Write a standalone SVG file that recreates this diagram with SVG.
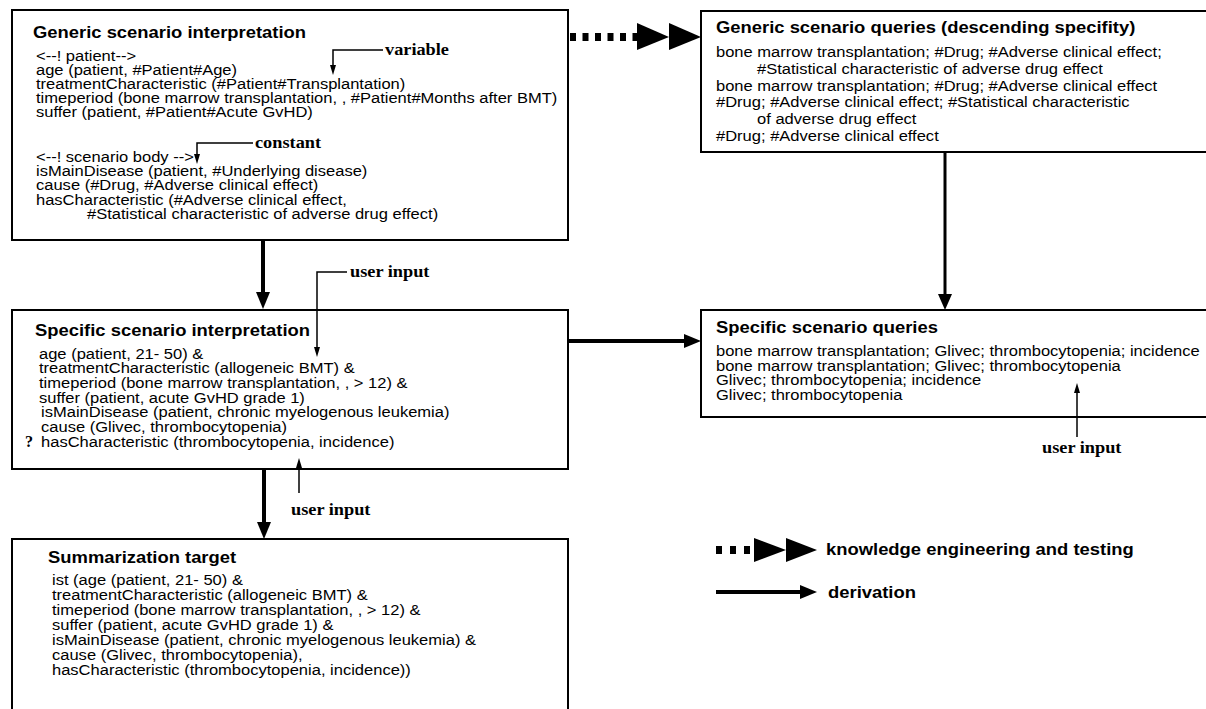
<svg xmlns="http://www.w3.org/2000/svg" width="1206" height="709" viewBox="0 0 1206 709">
<style>
.box{fill:#fff;stroke:#000;stroke-width:2}
.t{font-family:"Liberation Sans",Arial,sans-serif;font-size:16.3px;font-weight:bold;fill:#000}
.b{font-family:"Liberation Sans",Arial,sans-serif;font-size:14.5px;fill:#000}
.s{font-family:"Liberation Serif","Times New Roman",serif;font-size:16.2px;font-weight:bold;fill:#000}
.thick{stroke:#000;stroke-width:4;fill:none}
.thin{stroke:#000;stroke-width:1.5;fill:none}
.dot{stroke:#000;stroke-width:8;fill:none;stroke-dasharray:6 6.5}
</style>
<rect width="1206" height="709" fill="#fff"/>
<g id="generic-interpretation">
<rect class="box" x="12" y="10" width="556" height="230"/>
<g transform="translate(33,0) scale(1.13,1)"><text class="t" x="0" y="38">Generic scenario interpretation</text></g>
<g transform="translate(36,0) scale(1.14,1)">
<text class="b" x="0" y="61">&lt;--! patient--&gt;</text>
<text class="b" x="0" y="75">age (patient, #Patient#Age)</text>
<text class="b" x="0" y="89">treatmentCharacteristic (#Patient#Transplantation)</text>
<text class="b" x="0" y="103">timeperiod (bone marrow transplantation, , #Patient#Months after BMT)</text>
<text class="b" x="0" y="117">suffer (patient, #Patient#Acute GvHD)</text>
<text class="b" x="0" y="162">&lt;--! scenario body --&gt;</text>
<text class="b" x="0" y="176">isMainDisease (patient, #Underlying disease)</text>
<text class="b" x="0" y="190">cause (#Drug, #Adverse clinical effect)</text>
<text class="b" x="0" y="205">hasCharacteristic (#Adverse clinical effect,</text>
<text class="b" x="44.7" y="219">#Statistical characteristic of adverse drug effect)</text>
</g>
</g>
<g id="generic-queries">
<rect class="box" x="701" y="11" width="520" height="141"/>
<g transform="translate(716,0) scale(1.13,1)"><text class="t" x="0" y="33">Generic scenario queries (descending specifity)</text></g>
<g transform="translate(716,0) scale(1.14,1)">
<text class="b" x="0" y="57">bone marrow transplantation; #Drug; #Adverse clinical effect;</text>
<text class="b" x="36" y="74">#Statistical characteristic of adverse drug effect</text>
<text class="b" x="0" y="91">bone marrow transplantation; #Drug; #Adverse clinical effect</text>
<text class="b" x="0" y="107">#Drug; #Adverse clinical effect; #Statistical characteristic</text>
<text class="b" x="36" y="124">of adverse drug effect</text>
<text class="b" x="0" y="141">#Drug; #Adverse clinical effect</text>
</g>
</g>
<g id="specific-interpretation">
<rect class="box" x="12" y="310" width="556" height="159"/>
<g transform="translate(35,0) scale(1.13,1)"><text class="t" x="0" y="336">Specific scenario interpretation</text></g>
<g transform="translate(39,0) scale(1.14,1)">
<text class="b" x="0" y="359">age (patient, 21- 50) &amp;</text>
<text class="b" x="0" y="373.5">treatmentCharacteristic (allogeneic BMT) &amp;</text>
<text class="b" x="0" y="388">timeperiod (bone marrow transplantation, , &gt; 12) &amp;</text>
<text class="b" x="0" y="403">suffer (patient, acute GvHD grade 1)</text>
<text class="b" x="1.8" y="417.5">isMainDisease (patient, chronic myelogenous leukemia)</text>
<text class="b" x="1.8" y="432">cause (Glivec, thrombocytopenia)</text>
<text class="b" x="1.8" y="447">hasCharacteristic (thrombocytopenia, incidence)</text>
</g>
<text class="s" x="25" y="447">?</text>
</g>
<g id="specific-queries">
<rect class="box" x="701" y="310" width="520" height="107"/>
<g transform="translate(716,0) scale(1.13,1)"><text class="t" x="0" y="333">Specific scenario queries</text></g>
<g transform="translate(716,0) scale(1.14,1)">
<text class="b" x="0" y="356">bone marrow transplantation; Glivec; thrombocytopenia; incidence</text>
<text class="b" x="0" y="371">bone marrow transplantation; Glivec; thrombocytopenia</text>
<text class="b" x="0" y="385">Glivec; thrombocytopenia; incidence</text>
<text class="b" x="0" y="400">Glivec; thrombocytopenia</text>
</g>
</g>
<g id="summarization-target">
<rect class="box" x="12" y="539" width="556" height="185"/>
<g transform="translate(48,0) scale(1.13,1)"><text class="t" x="0" y="563">Summarization target</text></g>
<g transform="translate(52,0) scale(1.14,1)">
<text class="b" x="0" y="585">ist (age (patient, 21- 50) &amp;</text>
<text class="b" x="0" y="600">treatmentCharacteristic (allogeneic BMT) &amp;</text>
<text class="b" x="0" y="615">timeperiod (bone marrow transplantation, , &gt; 12) &amp;</text>
<text class="b" x="0" y="630">suffer (patient, acute GvHD grade 1) &amp;</text>
<text class="b" x="0" y="645">isMainDisease (patient, chronic myelogenous leukemia) &amp;</text>
<text class="b" x="0" y="660">cause (Glivec, thrombocytopenia),</text>
<text class="b" x="0" y="675">hasCharacteristic (thrombocytopenia, incidence))</text>
</g>
</g>
<g id="connectors">
<line class="dot" x1="570" y1="37" x2="637" y2="37"/>
<polygon points="637,23 669,37 637,50"/>
<polygon points="669,23 701,37 669,50"/>
<line class="thick" x1="263" y1="240" x2="263" y2="294"/>
<polygon points="256,292 270,292 263,309"/>
<line class="thick" x1="945" y1="152" x2="945" y2="296" style="stroke-width:3"/>
<polygon points="938,294 952,294 945,310"/>
<line class="thick" x1="568" y1="341" x2="686" y2="341"/>
<polygon points="684,334 701,341 684,348"/>
<line class="thick" x1="264" y1="469" x2="264" y2="524"/>
<polygon points="257,522 271,522 264,539"/>
<polyline class="thin" points="383,50 333,50 333,66"/>
<polygon points="330,65 336,65 333,75"/>
<polyline class="thin" points="253,143 197,143 197,155"/>
<polygon points="194,154 200,154 197,164"/>
<polyline class="thin" points="347,272 317,272 317,348"/>
<polygon points="314,347 320,347 317,357"/>
<line class="thin" x1="299" y1="493" x2="299" y2="467"/>
<polygon points="296,468 302,468 299,458"/>
<line class="thin" x1="1077" y1="437" x2="1077" y2="392"/>
<polygon points="1074,393 1080,393 1077,383"/>
</g>
<g id="labels">
<g transform="translate(385,0) scale(1.13,1)"><text class="s" x="0" y="55">variable</text></g>
<g transform="translate(255,0) scale(1.13,1)"><text class="s" x="0" y="148">constant</text></g>
<g transform="translate(350,0) scale(1.13,1)"><text class="s" x="0" y="277">user input</text></g>
<g transform="translate(291,0) scale(1.13,1)"><text class="s" x="0" y="515">user input</text></g>
<g transform="translate(1042,0) scale(1.13,1)"><text class="s" x="0" y="453">user input</text></g>
</g>
<g id="legend">
<line class="dot" x1="716" y1="550" x2="754" y2="550" style="stroke-dasharray:6 8"/>
<polygon points="754,538 786,550 754,562"/>
<polygon points="786,538 817,550 786,562"/>
<g transform="translate(826,0) scale(1.13,1)"><text class="t" x="0" y="555">knowledge engineering and testing</text></g>
<line class="thick" x1="716" y1="592" x2="802" y2="592"/>
<polygon points="800,585 817,592 800,599"/>
<g transform="translate(828,0) scale(1.13,1)"><text class="t" x="0" y="598">derivation</text></g>
</g>
</svg>
